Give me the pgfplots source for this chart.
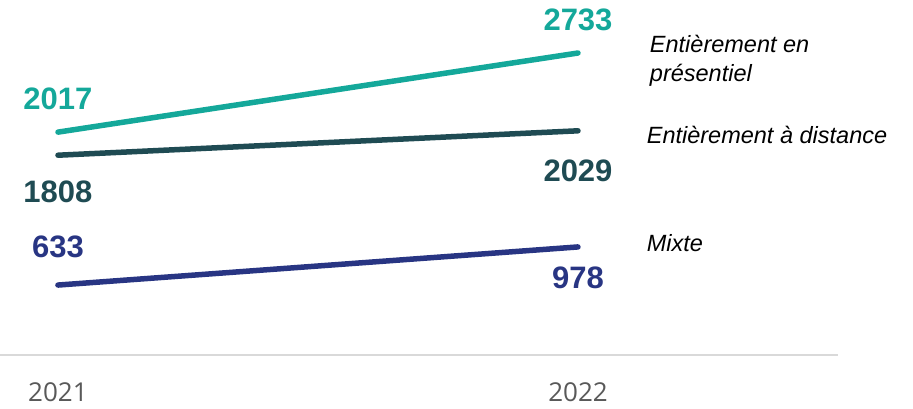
\documentclass[border=0pt]{standalone}
\usepackage{fontspec}
\setmainfont{Liberation Sans}
\newfontfamily\tickfont{Open Sans}
\usepackage{pgfplots}
\pgfplotsset{compat=1.18}

\definecolor{cTeal}{HTML}{14A89A}
\definecolor{cSlate}{HTML}{1F4B53}
\definecolor{cNavy}{HTML}{283583}
\definecolor{cTick}{HTML}{595959}
\definecolor{cAxis}{HTML}{D9D9D9}

\begin{document}
\begin{tikzpicture}
\begin{axis}[
    scale only axis,
    width=838pt, height=353.6pt,
    xmin=2020.8885, xmax=2022.5,
    ymin=0, ymax=3200,
    clip=false,
    hide y axis,
    axis x line*=bottom,
    x axis line style={cAxis, line width=1.5pt, -},
    xtick={2021,2022},
    xticklabels={2021,2022},
    major tick length=0pt,
    xticklabel style={font=\tickfont\fontsize{26}{29}\selectfont, text=cTick, anchor=center, yshift=-37pt},
    every axis plot/.append style={line width=5.5pt, line cap=round, mark=none},
]
\addplot[cTeal]  coordinates {(2021,2017) (2022,2733)};
\addplot[cSlate] coordinates {(2021,1808) (2022,2029)};
\addplot[cNavy]  coordinates {(2021,633) (2022,978)};

\tikzset{val/.style={font=\bfseries\fontsize{31}{34}\selectfont, anchor=center}}
\node[val, text=cTeal,  yshift=33pt]  at (axis cs:2021,2017) {2017};
\node[val, text=cTeal,  yshift=33pt]  at (axis cs:2022,2733) {2733};
\node[val, text=cSlate, yshift=-37pt] at (axis cs:2021,1808) {1808};
\node[val, text=cSlate, yshift=-40pt] at (axis cs:2022,2029) {2029};
\node[val, text=cNavy,  yshift=38pt]  at (axis cs:2021,633) {633};
\node[val, text=cNavy,  yshift=-31pt] at (axis cs:2022,978) {978};

\tikzset{lab/.style={font=\itshape\fontsize{23.5}{29}\selectfont, anchor=west, align=left, inner sep=0pt}}
\node[lab] at (axis cs:2022.138,2661) {Entièrement en\\présentiel};
\node[lab] at (axis cs:2022.132,1991) {Entièrement à distance};
\node[lab] at (axis cs:2022.132,1014) {Mixte};
\end{axis}
\pgfresetboundingbox
\path (0pt,-53pt) rectangle (913pt,355pt);
\end{tikzpicture}
\end{document}
